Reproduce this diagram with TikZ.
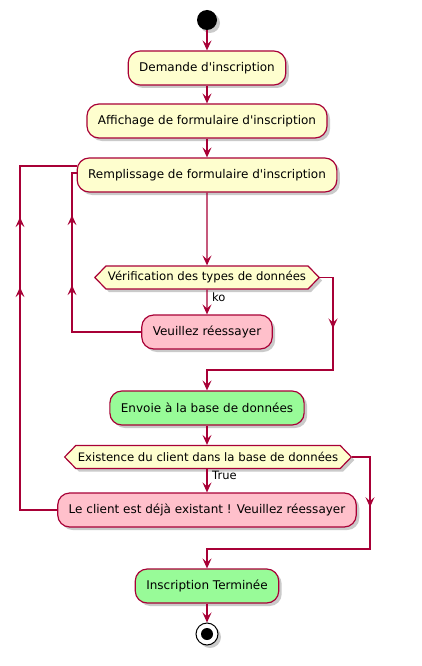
\documentclass[tikz,border=0pt]{standalone}
\usepackage{fontspec}
\setmainfont{DejaVu Sans}
\usetikzlibrary{arrows.meta,shapes.symbols,shadows,decorations.markings}
\definecolor{umlRed}{HTML}{A80036}
\definecolor{umlYellow}{HTML}{FEFECE}
\definecolor{umlPink}{HTML}{FFC0CB}
\definecolor{umlGreen}{HTML}{98FB98}
\tikzset{
  umltip/.tip={Stealth[length=10pt,width=9pt,inset=4pt]},
  umlshadow/.style={drop shadow={shadow xshift=3pt, shadow yshift=-3pt, opacity=0.35, fill=black!60}},
  activity/.style={draw=umlRed, line width=1.2pt, fill=umlYellow, rounded corners=12pt,
    minimum height=34pt, inner xsep=11pt, font=\fontsize{12}{14}\selectfont, umlshadow},
  decision/.style={draw=umlRed, line width=1.2pt, fill=umlYellow, shape=signal,
    signal to=west and east, signal pointer angle=92, minimum height=23pt,
    inner xsep=2pt, inner ysep=0pt, font=\fontsize{11.7}{13}\selectfont, umlshadow},
  guard/.style={font=\fontsize{11.5}{13}\selectfont, inner sep=0pt, anchor=west},
  startdot/.style={circle, fill=black, minimum size=20pt, inner sep=0pt, umlshadow},
  stopring/.style={circle, draw=black, line width=1pt, fill=white, minimum size=22pt, inner sep=0pt, umlshadow},
  stopdot/.style={circle, fill=black, minimum size=12pt, inner sep=0pt},
  flow/.style={draw=umlRed, line width=1.2pt, -umltip},
  line/.style={draw=umlRed, line width=1.2pt},
  midtip/.style={postaction={decorate, decoration={markings,
    mark=at position #1 with {\arrow[umlRed]{umltip}}}}},
}

\begin{document}
\begin{tikzpicture}[x=1pt, y=-1pt]
    \useasboundingbox (0,0) rectangle (421,666);

    % start and stop
    \node[startdot] (start) at (207,20) {};
    \node[stopring] (stop) at (207,634) {};
    \node[stopdot] (stopin) at (stop) {};

    % activities
    \node[activity] (demande) at (207,68) {Demande d\textquotesingle inscription};
    \node[activity] (affichage) at (207,121) {Affichage de formulaire d\textquotesingle inscription};
    \node[activity] (remplissage) at (207,175) {Remplissage de formulaire d\textquotesingle inscription};
    \node[activity, fill=umlPink] (reessayer) at (207,332) {Veuillez réessayer};
    \node[activity, fill=umlGreen] (envoie) at (207,408) {Envoie à la base de données};
    \node[activity, fill=umlPink] (existant) at (207,510) {Le client est déjà existant ! Veuillez réessayer};
    \node[activity, fill=umlGreen] (termine) at (207,586) {Inscription Terminée};

    % decisions
    \node[decision] (verif) at (207,277.5) {Vérification des types de données};
    \node[decision] (existe) at (208,457) {Existence du client dans la base de données};
    \node[guard] (ko) at (212,297) {ko};
    \node[guard] (true) at (212,475) {True};

    % corners of the loops and joins
    \coordinate (innerTop) at (72,173);
    \coordinate (outerTop) at (20,166);
    \coordinate (joinA) at (333,370);
    \coordinate (joinB) at (370,549);

    % main flow
    \draw[flow] (start) -- (demande);
    \draw[flow] (demande) -- (affichage);
    \draw[flow] (affichage) -- (remplissage);
    \draw[flow] (remplissage) -- (verif);
    \draw[flow] (verif) -- (reessayer);
    \draw[flow] (envoie) -- (existe.north -| envoie.south);
    \draw[flow] (existe.south -| existant.north) -- (existant);
    \draw[flow] (termine) -- (stop);

    % else branches
    \draw[flow, midtip=64pt] (verif.east) -| (joinA) -| (envoie.north);
    \draw[flow, midtip=68pt] (existe.east) -| (joinB) -| (termine.north);

    % loops back
    \draw[line, midtip=116pt, midtip=186pt] (reessayer.west) -| (innerTop) -- (innerTop -| remplissage.west);
    \draw[line, midtip=260pt, midtip=330pt] (existant.west) -| (outerTop) -- (outerTop -| remplissage.west);
\end{tikzpicture}
\end{document}
